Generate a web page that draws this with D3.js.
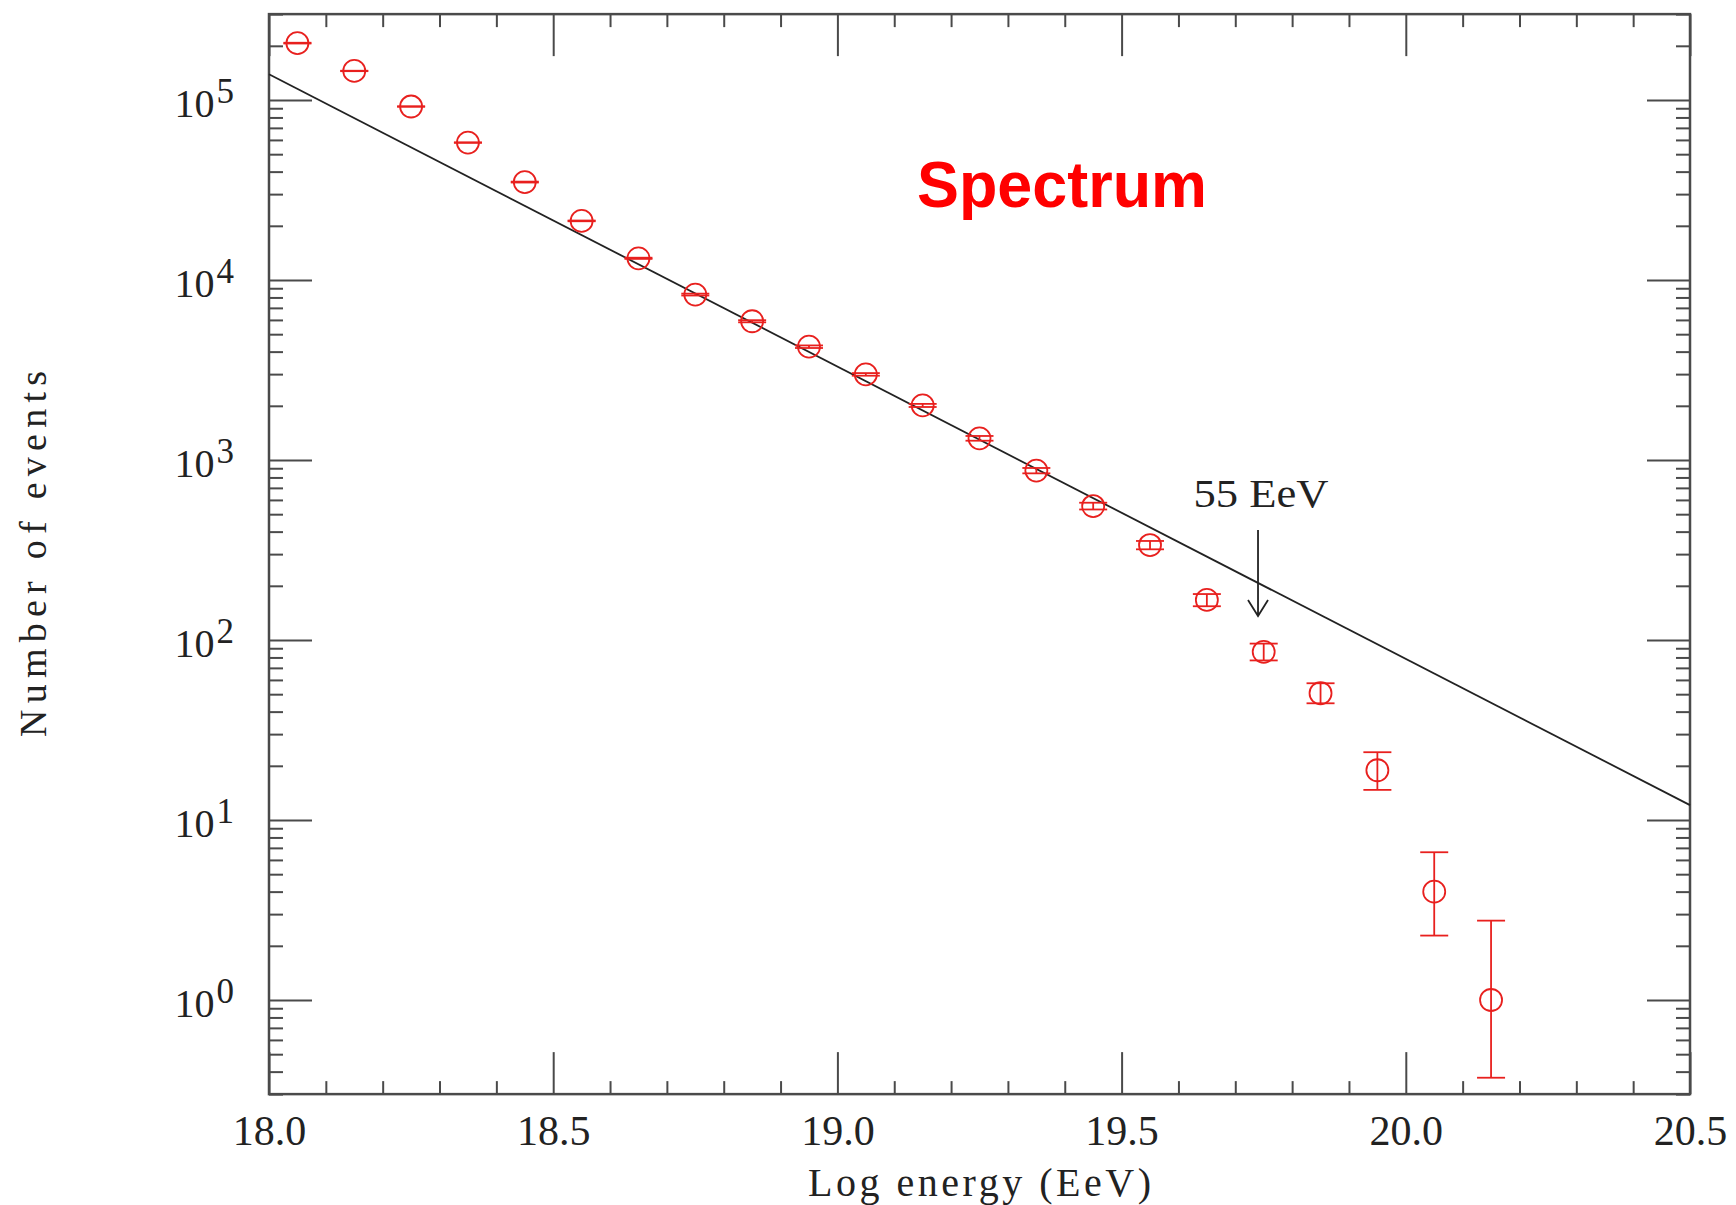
<!DOCTYPE html>
<html>
<head>
<meta charset="utf-8">
<script src="https://cdn.jsdelivr.net/npm/d3@7"></script>
<style>
  body { margin: 0; background: #fff; }
  svg { display: block; }
</style>
</head>
<body>
<svg id="svg" width="1736" height="1205"></svg>
<script>
// log energy bin centres (EeV scale, log10 eV)
const energy = [18.05, 18.15, 18.25, 18.35, 18.45, 18.55, 18.65, 18.75, 18.85, 18.95, 19.05,
                19.15, 19.25, 19.35, 19.45, 19.55, 19.65, 19.75, 19.85, 19.95, 20.05, 20.15];
// number of events per bin
const counts = [2.07e5, 1.45e5, 9.2e4, 5.8e4, 3.5e4, 2.13e4, 1.32e4, 8.3e3, 5.9e3, 4.26e3, 2.99e3,
                2.01e3, 1.32e3, 873, 555, 337, 167, 86, 50.6, 18.9, 4.0, 1.0];
// lower / upper ends of the error bars
const errLow = [2.06e5, 1.446e5, 9.17e4, 5.78e4, 3.48e4, 2.12e4, 1.31e4, 8.2e3, 5.82e3, 4.19e3, 2.94e3,
                1.97e3, 1.28e3, 843, 531, 319, 154, 77, 44.5, 14.7, 2.28, 0.37];
const errHigh = [2.08e5, 1.454e5, 9.23e4, 5.82e4, 3.52e4, 2.14e4, 1.33e4, 8.4e3, 5.98e3, 4.33e3, 3.04e3,
                 2.05e3, 1.36e3, 903, 579, 355, 180, 95.5, 57.5, 23.8, 6.62, 2.76];
// power-law reference line end points
const fitX = [18.0, 20.5];
const fitY = [1.39e5, 12.1];
// axis ticks
const xMajor = [18.0, 18.5, 19.0, 19.5, 20.0, 20.5];
const yDecades = [1, 10, 100, 1000, 10000, 100000];
const yExponents = ["0", "1", "2", "3", "4", "5"];
const arrowAt = 19.74;

const svg = d3.select("#svg");
const frameColor = "#4a4a4a";
const red = "#e8201e";

const x = d3.scaleLinear().domain([18, 20.5]).range([269, 1690]);
const y = d3.scaleLog().domain([1, 1e5]).range([1000, 100]);
const yMin = 0.3, yMax = 3e5;
const plotTop = y(yMax), plotBottom = y(yMin), plotLeft = x(18), plotRight = x(20.5);

// minor tick values
const xMinor = d3.range(180, 206).map(d => d / 10).filter(d => !xMajor.some(m => Math.abs(m - d) < 1e-9));
const yMinor = [];
for (let e = -1; e <= 5; e++) {
    for (let k = 2; k <= 9; k++) {
        const v = k * Math.pow(10, e);
        if (v >= yMin && v <= yMax) yMinor.push(v);
    }
}

function styleAxis(g) {
    g.select(".domain").remove();
    g.selectAll("line").attr("stroke", frameColor).attr("stroke-width", 2);
}

// bottom axis
svg.append("g").attr("transform", `translate(0,${plotBottom})`)
    .call(d3.axisBottom(x).tickValues(xMajor).tickSize(-42).tickFormat(d3.format(".1f")))
    .call(styleAxis)
    .call(g => g.selectAll("text")
        .attr("y", 51).attr("dy", null)
        .attr("font-family", "Liberation Serif, serif")
        .attr("font-size", 42).attr("fill", "#222"));
svg.append("g").attr("transform", `translate(0,${plotBottom})`)
    .call(d3.axisBottom(x).tickValues(xMinor).tickSize(-13).tickFormat(""))
    .call(styleAxis);

// top axis
svg.append("g").attr("transform", `translate(0,${plotTop})`)
    .call(d3.axisTop(x).tickValues(xMajor).tickSize(-42).tickFormat(""))
    .call(styleAxis);
svg.append("g").attr("transform", `translate(0,${plotTop})`)
    .call(d3.axisTop(x).tickValues(xMinor).tickSize(-13).tickFormat(""))
    .call(styleAxis);

// left axis
svg.append("g").attr("transform", `translate(${plotLeft},0)`)
    .call(d3.axisLeft(y).tickValues(yDecades).tickSize(-43).tickFormat(""))
    .call(styleAxis);
svg.append("g").attr("transform", `translate(${plotLeft},0)`)
    .call(d3.axisLeft(y).tickValues(yMinor).tickSize(-14).tickFormat(""))
    .call(styleAxis);

// right axis
svg.append("g").attr("transform", `translate(${plotRight},0)`)
    .call(d3.axisLeft(y).tickValues(yDecades).tickSize(43).tickFormat(""))
    .call(styleAxis);
svg.append("g").attr("transform", `translate(${plotRight},0)`)
    .call(d3.axisLeft(y).tickValues(yMinor).tickSize(14).tickFormat(""))
    .call(styleAxis);

// y tick labels as 10^n
const yLabels = svg.append("g")
    .attr("font-family", "Liberation Serif, serif")
    .attr("fill", "#222")
    .attr("text-anchor", "end");
yDecades.forEach((v, i) => {
    const t = yLabels.append("text")
        .attr("x", plotLeft - 35)
        .attr("y", y(v) + 17)
        .attr("font-size", 40);
    t.append("tspan").text("10");
    t.append("tspan").attr("font-size", 35).attr("dx", 2).attr("dy", -14).text(yExponents[i]);
});

// frame
svg.append("rect")
    .attr("x", plotLeft).attr("y", plotTop)
    .attr("width", plotRight - plotLeft).attr("height", plotBottom - plotTop)
    .attr("fill", "none")
    .attr("stroke", frameColor)
    .attr("stroke-width", 2.5);

// reference line
svg.append("line")
    .attr("x1", x(fitX[0])).attr("y1", y(fitY[0]))
    .attr("x2", x(fitX[1])).attr("y2", y(fitY[1]))
    .attr("stroke", "#222")
    .attr("stroke-width", 1.8);

// data points with error bars
const pts = svg.append("g")
    .attr("stroke", red)
    .attr("stroke-width", 1.8)
    .attr("fill", "none");
const pt = pts.selectAll("g")
    .data(energy.map((e, i) => ({ e, n: counts[i], lo: errLow[i], hi: errHigh[i] })))
    .join("g");
pt.append("line")
    .attr("x1", d => x(d.e)).attr("x2", d => x(d.e))
    .attr("y1", d => y(d.lo)).attr("y2", d => y(d.hi));
pt.append("line")
    .attr("x1", d => x(d.e) - 14).attr("x2", d => x(d.e) + 14)
    .attr("y1", d => y(d.lo)).attr("y2", d => y(d.lo));
pt.append("line")
    .attr("x1", d => x(d.e) - 14).attr("x2", d => x(d.e) + 14)
    .attr("y1", d => y(d.hi)).attr("y2", d => y(d.hi));
pt.append("circle")
    .attr("cx", d => x(d.e)).attr("cy", d => y(d.n))
    .attr("r", 11);

// 55 EeV annotation
const ax = x(arrowAt);
svg.append("text")
    .attr("x", ax + 3).attr("y", 507)
    .attr("text-anchor", "middle")
    .attr("font-family", "Liberation Serif, serif")
    .attr("font-size", 40)
    .attr("fill", "#222")
    .attr("textLength", 135)
    .attr("lengthAdjust", "spacingAndGlyphs")
    .text("55 EeV");
svg.append("path")
    .attr("d", `M${ax},530 L${ax},616 M${ax - 10},600 L${ax},616 L${ax + 10},600`)
    .attr("fill", "none")
    .attr("stroke", "#222")
    .attr("stroke-width", 1.8);

// title
svg.append("text")
    .attr("x", 917).attr("y", 207)
    .attr("font-family", "Liberation Sans, Arial, sans-serif")
    .attr("font-weight", "bold")
    .attr("font-size", 64)
    .attr("fill", "#ff0000")
    .attr("textLength", 290)
    .attr("lengthAdjust", "spacingAndGlyphs")
    .text("Spectrum");

// axis titles
svg.append("text")
    .attr("x", (plotLeft + plotRight) / 2).attr("y", 1196)
    .attr("text-anchor", "middle")
    .attr("font-family", "Liberation Serif, serif")
    .attr("font-size", 40)
    .attr("fill", "#222")
    .attr("textLength", 343)
    .attr("lengthAdjust", "spacing")
    .text("Log energy (EeV)");
svg.append("text")
    .attr("transform", "translate(46,554) rotate(-90)")
    .attr("text-anchor", "middle")
    .attr("font-family", "Liberation Serif, serif")
    .attr("font-size", 38)
    .attr("fill", "#222")
    .attr("textLength", 366)
    .attr("lengthAdjust", "spacing")
    .text("Number of events");
</script>
</body>
</html>
